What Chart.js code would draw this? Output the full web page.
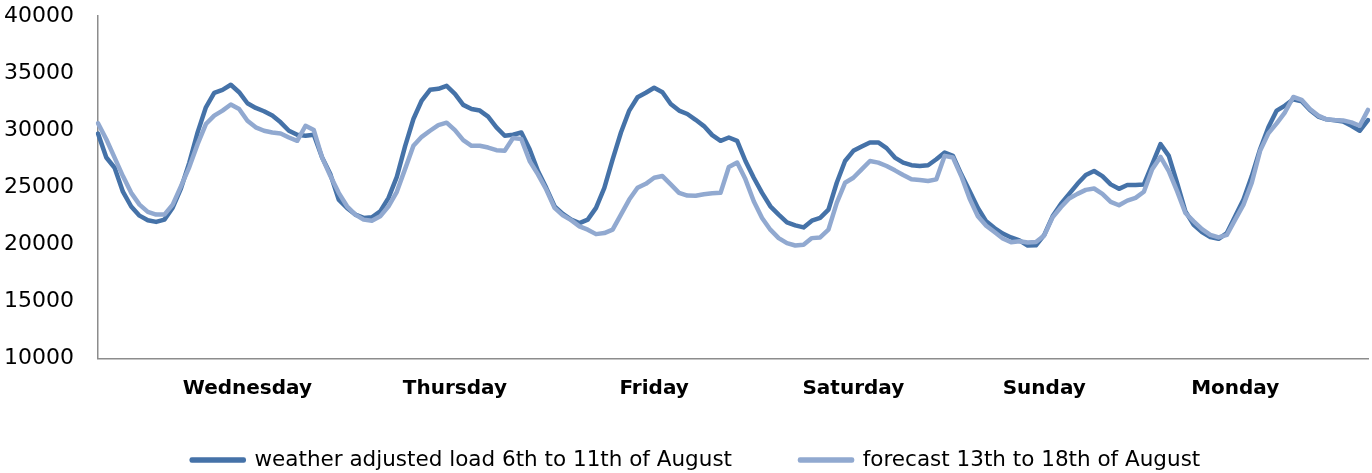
<!DOCTYPE html>
<html lang="en">
<head>
  <meta charset="UTF-8">
  <title>Weather adjusted load vs forecast</title>
  <script src="https://cdn.jsdelivr.net/npm/chart.js"></script>
  <style>
    body { margin: 0; background: #fff; }
    #wrap { width: 1372px; height: 473px; }
  </style>
</head>
<body>
  <div id="wrap"><canvas id="loadChart"></canvas></div>

  <script>
    // hourly values, 154 points
    const dayNames = ['Wednesday', 'Thursday', 'Friday', 'Saturday', 'Sunday', 'Monday'];
    const dayLabelAt = [18, 43, 67, 91, 114, 137];
    const yTicks = [10000, 15000, 20000, 25000, 30000, 35000, 40000];

    const adjustedLoad = [
      29700, 27600, 26700, 24600, 23300, 22500, 22100, 21950, 22150, 23200,
      24900, 27150, 29800, 32000, 33270, 33530, 33970, 33320, 32350, 31940,
      31650, 31270, 30680, 29940, 29590, 29500, 29590, 27590, 26120, 23910,
      23180, 22590, 22300, 22350, 22880, 24060, 25900, 28600, 30970, 32590,
      33530, 33620, 33880, 33180, 32210, 31850, 31710, 31180, 30240, 29500,
      29590, 29790, 28320, 26410, 24940, 23320, 22650, 22150, 21850, 22150,
      23180, 24940, 27440, 29790, 31710, 32880, 33270, 33710, 33320, 32290,
      31710, 31410, 30900, 30350, 29560, 29060, 29350, 29060, 27290, 25820,
      24500, 23320, 22590, 21910, 21650, 21470, 22060, 22300, 23030, 25380,
      27290, 28180, 28560, 28920, 28920, 28420, 27590, 27150, 26920, 26850,
      26920, 27440, 28030, 27740, 26120, 24650, 23180, 22000, 21410, 20930,
      20590, 20340, 19880, 19900, 20820, 22440, 23530, 24410, 25290, 26060,
      26410, 25970, 25240, 24850, 25180, 25180, 25240, 27000, 28770, 27740,
      25380, 22880, 21700, 21060, 20620, 20470, 20970, 22440, 23910, 25970,
      28320, 30240, 31710, 32150, 32700, 32530, 31770, 31180, 30940, 30850,
      30760, 30380, 29940, 30880
    ];

    const forecast = [
      30600, 29200, 27590, 25970, 24500, 23470, 22830, 22590, 22590, 23470,
      25090, 26760, 28770, 30530, 31270, 31710, 32240, 31850, 30820, 30240,
      29940, 29790, 29700, 29350, 29060, 30380, 30000, 27590, 25970, 24500,
      23320, 22590, 22150, 22060, 22440, 23320, 24590, 26600, 28620, 29410,
      29940, 30440, 30650, 30000, 29120, 28620, 28620, 28470, 28240, 28180,
      29300, 29210, 27290, 26120, 24790, 23180, 22530, 22110, 21560, 21270,
      20880, 20970, 21270, 22590, 23910, 24940, 25290, 25820, 25970, 25240,
      24500, 24260, 24250, 24380, 24470, 24500, 26760, 27150, 25680, 23760,
      22300, 21270, 20530, 20090, 19880, 19940, 20530, 20590, 21270, 23620,
      25380, 25820, 26560, 27290, 27150, 26850, 26470, 26060, 25680, 25620,
      25530, 25680, 27740, 27590, 25970, 24000, 22440, 21620, 21060, 20500,
      20170, 20250, 20140, 20180, 20770, 22350, 23240, 24000, 24410, 24760,
      24880, 24410, 23710, 23410, 23820, 24060, 24590, 26560, 27650, 26410,
      24650, 22730, 22000, 21320, 20820, 20590, 20820, 22150, 23470, 25380,
      28180, 29710, 30590, 31560, 32900, 32650, 31850, 31270, 30940, 30880,
      30850, 30680, 30380, 31770
    ];

    const hourLabels = adjustedLoad.map(() => '');
    dayLabelAt.forEach((idx, k) => { hourLabels[idx] = dayNames[k]; });

    const darkBlue = '#4572a8';
    const lightBlue = '#91a9d0';
    const axisGrey = '#8c8c8c';
    const fontFamily = "'DejaVu Sans', sans-serif";

    // no auto padding from tick labels, so the plot box sits where we want it
    const noPad = s => { s.paddingTop = 0; s.paddingBottom = 0; s.paddingLeft = 0; s.paddingRight = 0; };

    // legend padding also sets the gap between items; nudge the box back afterwards
    const legendNudge = {
      id: 'legendNudge',
      afterLayout(chart) {
        const lg = chart.legend;
        lg.left += 12; lg.right += 12;
        lg.top -= 22; lg.bottom -= 22;
      }
    };

    new Chart(document.getElementById('loadChart'), {
      type: 'line',
      data: {
        labels: hourLabels,
        datasets: [
          {
            label: 'weather adjusted load 6th to 11th of August',
            data: adjustedLoad,
            borderColor: darkBlue,
            backgroundColor: darkBlue,
            borderWidth: 4.5,
            pointRadius: 0,
            tension: 0,
            borderJoinStyle: 'round',
            borderCapStyle: 'round',
            order: 1
          },
          {
            label: 'forecast 13th to 18th of August',
            data: forecast,
            borderColor: lightBlue,
            backgroundColor: lightBlue,
            borderWidth: 4.5,
            pointRadius: 0,
            tension: 0,
            borderJoinStyle: 'round',
            borderCapStyle: 'round',
            order: 0
          }
        ]
      },
      plugins: [legendNudge],
      options: {
        responsive: true,
        maintainAspectRatio: false,
        animation: false,
        layout: { padding: { top: 16, right: 4, left: 0, bottom: -29.75 } },
        plugins: {
          tooltip: { enabled: false },
          legend: {
            position: 'bottom',
            labels: {
              color: '#000',
              font: { family: fontFamily, size: 21.5 },
              boxWidth: 52,
              boxHeight: 1,
              padding: 68,
              sort: (a, b) => a.datasetIndex - b.datasetIndex
            }
          }
        },
        scales: {
          x: {
            offset: false,
            grid: { display: false, drawTicks: false },
            border: { display: true, color: axisGrey, width: 1.5 },
            ticks: {
              autoSkip: false,
              maxRotation: 0,
              minRotation: 0,
              padding: 19,
              color: '#000',
              font: { family: fontFamily, size: 20, weight: 'bold' }
            },
            afterFit: s => { s.height = 45; noPad(s); }
          },
          y: {
            min: 10000,
            max: 40000,
            afterBuildTicks: s => { s.ticks = yTicks.map(v => ({ value: v })); },
            grid: { display: false, drawTicks: false },
            border: { display: true, color: axisGrey, width: 1.5 },
            ticks: {
              padding: 24,
              color: '#000',
              font: { family: fontFamily, size: 22 },
              callback: v => String(v)
            },
            afterFit: s => { s.width = 98; noPad(s); }
          }
        }
      }
    });
  </script>
</body>
</html>
